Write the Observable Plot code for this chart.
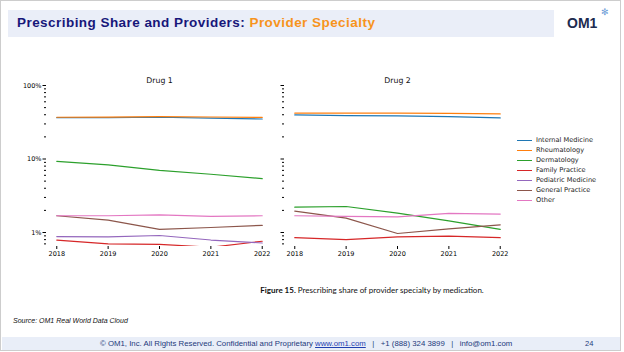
<!DOCTYPE html>
<html>
<head>
<meta charset="utf-8">
<script src="https://cdn.jsdelivr.net/npm/d3@7"></script>
<script src="https://cdn.jsdelivr.net/npm/@observablehq/plot@0.6"></script>
<style>
  html, body { margin: 0; padding: 0; background: #fff; }
  #page { position: relative; width: 624px; height: 352px; overflow: hidden; background: #fff; font-family: "Liberation Sans", Arial, sans-serif; }
  .abs { position: absolute; }
  #frame { left: 0; top: 0; width: 619px; height: 349px; border: 1.5px solid #cdcdcd; }
  #titlebar { left: 8px; top: 10px; width: 546px; height: 27px; background: #eaeef8; }
  #title { left: 17px; top: 15px; font-size: 13.5px; font-weight: bold; color: #17177a; white-space: nowrap; letter-spacing: 0.45px; }
  #title span { color: #f7941d; }
  #logo { left: 567px; top: 15px; font-size: 14px; font-weight: bold; color: #1d2b4f; font-family: "Liberation Sans", Arial, sans-serif; letter-spacing: 0px; }
  #snow { left: 601px; top: 7px; font-size: 9px; color: #6a9ad6; font-family: "DejaVu Sans"; }
  #caption { left: 0; width: 744px; top: 285px; text-align: center; font-family: Lato, "Open Sans", sans-serif; font-size: 8px; color: #111; white-space: nowrap; }
  #source { left: 13px; top: 317px; font-size: 7px; font-style: italic; color: #111; white-space: nowrap; }
  #footer { left: 2px; top: 337px; width: 618px; height: 13px; background: #e9eef8; }
  #foottext { left: 100px; top: 338.5px; font-size: 7.8px; color: #23397a; white-space: nowrap; }
  #foottext a { color: #1f3fb0; text-decoration: underline; }
  #pagenum { left: 585px; top: 338.5px; font-size: 7.5px; color: #23397a; }
  #legend { left: 517px; top: 135px; font-family: "DejaVu Sans"; font-size: 6.6px; color: #222; }
  .lrow { display: flex; align-items: center; height: 10px; }
  .lsw { width: 15px; height: 0; border-top: 1.2px solid; margin-right: 4px; }
</style>
</head>
<body>
<div id="page">
  <div id="frame" class="abs"></div>
  <div id="titlebar" class="abs"></div>
  <div id="title" class="abs">Prescribing Share and Providers: <span>Provider Specialty</span></div>
  <div id="logo" class="abs">OM1</div>
  <div id="snow" class="abs">✻</div>
  <div id="caption" class="abs"><b>Figure 15.</b> Prescribing share of provider specialty by medication.</div>
  <div id="source" class="abs">Source: OM1 Real World Data Cloud</div>
  <div id="footer" class="abs"></div>
  <div id="foottext" class="abs">© OM1, Inc. All Rights Reserved. Confidential and Proprietary <a>www.om1.com</a> &nbsp;&nbsp;|&nbsp;&nbsp; +1 (888) 324 3899 &nbsp;&nbsp;|&nbsp;&nbsp; info@om1.com</div>
  <div id="pagenum" class="abs">24</div>
  <div id="legend" class="abs"></div>
</div>
<script>
const years = [2018, 2019, 2020, 2021, 2022];
const specialties = ["Internal Medicine", "Rheumatology", "Dermatology", "Family Practice", "Pediatric Medicine", "General Practice", "Other"];
const colors = ["#1f77b4", "#ff7f0e", "#2ca02c", "#d62728", "#9467bd", "#8c564b", "#e377c2"];
const drugs = ["Drug 1", "Drug 2"];
const yTickValues = [0.01, 0.1, 1];

// Drug 1 shares (fraction of prescribing)
const drug1InternalMedicine = [0.365, 0.365, 0.370, 0.360, 0.350];
const drug1Rheumatology     = [0.370, 0.372, 0.377, 0.373, 0.368];
const drug1Dermatology      = [0.093, 0.083, 0.070, 0.062, 0.054];
const drug1FamilyPractice   = [0.0079, 0.0070, 0.0069, 0.0063, 0.0076];
const drug1Pediatric        = [0.0088, 0.0087, 0.0091, 0.0079, 0.0072];
const drug1GeneralPractice  = [0.0169, 0.0147, 0.0110, 0.0117, 0.0125];
const drug1Other            = [0.0169, 0.0169, 0.0174, 0.0166, 0.0169];

// Drug 2 shares
const drug2InternalMedicine = [0.398, 0.390, 0.386, 0.378, 0.362];
const drug2Rheumatology     = [0.420, 0.420, 0.422, 0.418, 0.411];
const drug2Dermatology      = [0.0221, 0.0226, 0.0184, 0.0144, 0.0110];
const drug2FamilyPractice   = [0.0085, 0.0080, 0.0087, 0.0089, 0.0085];
const drug2Pediatric        = [null, null, null, null, null];
const drug2GeneralPractice  = [0.0195, 0.0157, 0.0097, 0.0112, 0.0127];
const drug2Other            = [0.0169, 0.0166, 0.0163, 0.0182, 0.0178];

const series = {
  "Drug 1": [drug1InternalMedicine, drug1Rheumatology, drug1Dermatology, drug1FamilyPractice, drug1Pediatric, drug1GeneralPractice, drug1Other],
  "Drug 2": [drug2InternalMedicine, drug2Rheumatology, drug2Dermatology, drug2FamilyPractice, drug2Pediatric, drug2GeneralPractice, drug2Other]
};

const rowsFor = (drug) => specialties.flatMap((s, i) =>
  years.map((y, j) => ({drug, specialty: s, year: y, value: series[drug][i][j]}))
).filter(d => d.value != null);

const yDomain = [0.00645, 1];
const minorTicks = d3.scaleLog().domain(yDomain).ticks().filter(v => !yTickValues.some(t => Math.abs(t - v) < 1e-9));

function panel(drug, showLabels, left, marginLeft) {
  const width = 226 + marginLeft + 8;
  const chart = Plot.plot({
    width,
    height: 196,
    marginLeft,
    marginRight: 8,
    marginTop: 15,
    marginBottom: 20,
    style: {fontFamily: "DejaVu Sans", fontSize: "6.5px", color: "#000", background: "transparent", overflow: "visible"},
    x: {type: "linear", domain: [2017.8, 2022.2], line: true, label: null},
    y: {type: "log", domain: yDomain, line: true, label: null},
    color: {domain: specialties, range: colors},
    marks: [
      Plot.axisX({ticks: years, tickFormat: "d", tickSize: 3, tickPadding: 2, label: null}),
      Plot.axisY({ticks: yTickValues, tickSize: 3.5, tickPadding: 1.5, label: null,
        tickFormat: showLabels ? (d => `${Math.round(d * 100)}%`) : (() => "")}),
      Plot.axisY({ticks: minorTicks, tickSize: 2, tickFormat: () => "", label: null}),
      Plot.line(rowsFor(drug), {x: "year", y: "value", z: "specialty", stroke: "specialty", strokeWidth: 1.2, clip: true}),
      Plot.text([drug], {frameAnchor: "top", dy: -8, text: d => d, fontSize: 7.8, fill: "#111"})
    ]
  });
  chart.style.position = "absolute";
  chart.style.left = left + "px";
  chart.style.top = "70px";
  document.getElementById("page").appendChild(chart);
}

panel(drugs[0], true, 0, 46);
panel(drugs[1], false, 272, 12);

const legend = document.getElementById("legend");
specialties.forEach((s, i) => {
  const row = document.createElement("div");
  row.className = "lrow";
  const sw = document.createElement("div");
  sw.className = "lsw";
  sw.style.borderTopColor = colors[i];
  const t = document.createElement("span");
  t.textContent = s;
  row.appendChild(sw);
  row.appendChild(t);
  legend.appendChild(row);
});
</script>
</body>
</html>
